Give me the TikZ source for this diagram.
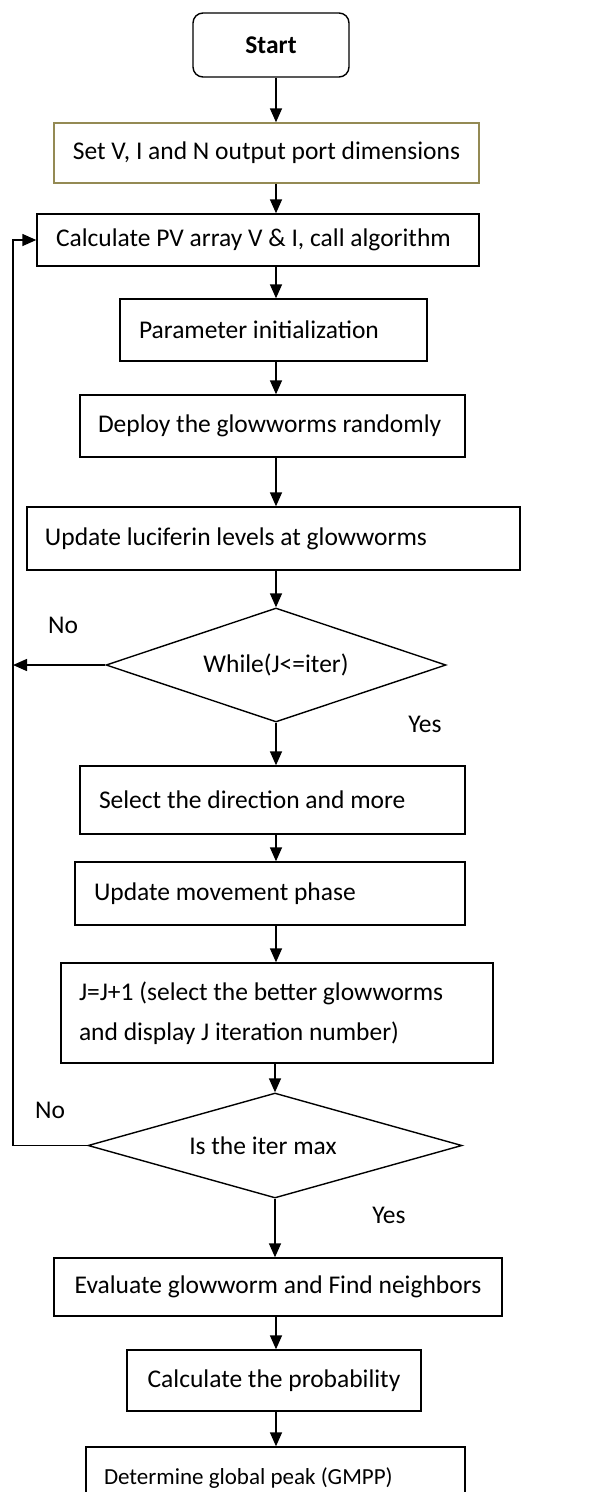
\documentclass[tikz,border=0pt]{standalone}
\usepackage{fontspec}
\setmainfont{Carlito}
\usetikzlibrary{shapes.geometric,arrows.meta}
\definecolor{olivebd}{RGB}{148,138,84}
\begin{document}
\begin{tikzpicture}[x=1pt,y=-1pt,
  every node/.style={font=\fontsize{25.5}{30}\selectfont},
  proc/.style={draw, line width=1.4pt, rectangle, inner ysep=0pt},
  dec/.style={draw, diamond, aspect=3, inner sep=0pt, line width=1.4pt},
  arr/.style={line width=1.5pt, -{Triangle[length=14pt,width=12pt]}},
  lbl/.style={inner sep=0pt}
]
\useasboundingbox (0,0) rectangle (603,1492);
\clip (0,0) rectangle (603,1492);
\coordinate (spine) at (276,0);
\coordinate (loopx) at (13,0);

\node[proc, rounded corners=10pt, minimum width=156pt, minimum height=64pt, font=\fontsize{25.5}{30}\selectfont\bfseries] (start) at (271,45) {Start};
\node[proc, draw=olivebd, minimum width=425pt, minimum height=60pt] (set) at (266.5,153) {Set V, I and N output port dimensions};
\node[proc, minimum width=442pt, minimum height=52pt, inner xsep=19pt] (calc) at (258,240) {\makebox[404pt][l]{Calculate PV array V \& I, call algorithm}};
\node[proc, minimum width=307pt, minimum height=62pt, inner xsep=19pt] (param) at (273.5,330) {\makebox[269pt][l]{Parameter initialization}};
\node[proc, minimum width=385pt, minimum height=62pt, inner xsep=18pt] (deploy) at (272.5,426) {\makebox[349pt][l]{Deploy the glowworms randomly}};
\node[proc, minimum width=493pt, minimum height=63pt, inner xsep=18pt] (upd) at (273.5,538.5) {\makebox[457pt][l]{Update luciferin levels at glowworms}};
\node[dec, minimum width=340pt, minimum height=114pt] (d1) at (276,665) {While(J<=iter)};
\node[proc, minimum width=385pt, minimum height=68pt, inner xsep=19pt] (sel) at (272.5,800) {\makebox[347pt][l]{Select the direction and more}};
\node[proc, minimum width=390pt, minimum height=63pt, inner xsep=19pt] (move) at (270,893.5) {\makebox[352pt][l]{Update movement phase}};
\node[proc, minimum width=432pt, minimum height=100pt, inner xsep=18pt, align=left, font=\fontsize{25.5}{40}\selectfont] (jj) at (277,1013) {\makebox[396pt][l]{J=J+1 (select the better glowworms}\\\makebox[396pt][l]{and display J iteration number)}};
\node[dec, minimum width=374pt, minimum height=105pt] (d2) at (275,1145.5) {Is the iter max\hspace*{24pt}};
\node[proc, minimum width=448pt, minimum height=58pt] (eval) at (278,1287) {Evaluate glowworm and Find neighbors};
\node[proc, minimum width=294pt, minimum height=61pt] (prob) at (274,1380.5) {Calculate the probability};
\node[proc, minimum width=379pt, minimum height=62pt, inner xsep=18pt, font=\fontsize{23}{28}\selectfont] (det) at (275.5,1478) {\makebox[343pt][l]{Determine global peak (GMPP)}};

\node[lbl] (no1) at (63,625) {No};
\node[lbl] (yes1) at (425,724) {Yes};
\node[lbl] (no2) at (50,1110) {No};
\node[lbl] (yes2) at (389,1215) {Yes};

\draw[arr] (start.south -| spine) -- (set.north -| spine);
\draw[arr] (set.south -| spine) -- (calc.north -| spine);
\draw[arr] (calc.south -| spine) -- (param.north -| spine);
\draw[arr] (param.south -| spine) -- (deploy.north -| spine);
\draw[arr] (deploy.south -| spine) -- (upd.north -| spine);
\draw[arr] (upd.south -| d1.north) -- (d1.north);
\draw[arr] (d1.south) -- (sel.north -| d1.south);
\draw[arr] (sel.south -| spine) -- (move.north -| spine);
\draw[arr] (move.south -| spine) -- (jj.north -| spine);
\draw[arr] (jj.south -| d2.north) -- (d2.north);
\draw[arr] (d2.south) -- (eval.north -| d2.south);
\draw[arr] (eval.south -| spine) -- (prob.north -| spine);
\draw[arr] (prob.south -| spine) -- (det.north -| spine);
\draw[arr] (d1.west) -- (d1.west -| loopx);
\draw[arr] (d2.west) -- (d2.west -| loopx) -- (calc.west -| loopx) -- (calc.west);
\end{tikzpicture}
\end{document}
